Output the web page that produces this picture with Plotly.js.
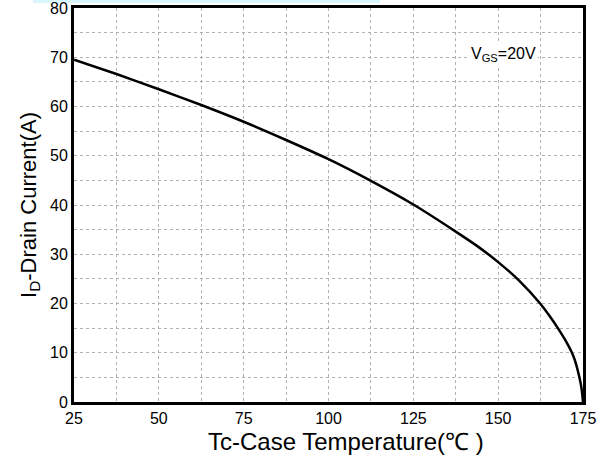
<!DOCTYPE html>
<html>
<head>
<meta charset="utf-8">
<script src="https://cdn.plot.ly/plotly-3.0.1.min.js"></script>
<style>html,body{margin:0;padding:0;background:#fff}#chart{width:603px;height:458px}</style>
</head>
<body>
<div id="chart"></div>
<script>
const temperature = [25, 37.5, 50, 62.5, 75, 87.5, 100, 112.5, 125, 137.5, 143.75, 150, 156.25, 162.5, 165, 167.5, 170, 172, 173, 174, 174.6, 175];
const drainCurrent = [69.5, 66.6, 63.5, 60.3, 56.9, 53.2, 49.3, 44.9, 40.1, 34.6, 31.7, 28.4, 24.6, 19.9, 17.6, 15.1, 12.3, 9.6, 7.6, 4.8, 2.6, 0];
const xTicks = [25, 50, 75, 100, 125, 150, 175];
const yTicks = [0, 10, 20, 30, 40, 50, 60, 70, 80];

const font = "Liberation Sans, Arial, sans-serif";
const trace = {
  x: temperature, y: drainCurrent, type: 'scatter', mode: 'lines',
  line: {color: '#000', width: 2.5, shape: 'spline', smoothing: 0.6},
  hoverinfo: 'skip', cliponaxis: true
};
const L = 74, R = 583, T = 8, B = 402;
const layout = {
  width: 603, height: 458,
  margin: {l: L, r: 603 - R, t: T, b: 458 - B},
  paper_bgcolor: '#fff', plot_bgcolor: '#fff',
  showlegend: false,
  font: {family: font, color: '#000', size: 16},
  xaxis: {
    range: [25, 175.0001], tickvals: xTicks, ticktext: xTicks.map(String),
    showgrid: true, gridcolor: '#b0b0b0', griddash: 'dot', gridwidth: 1,
    minor: {dtick: 12.5, tick0: 25, showgrid: true, gridcolor: '#b0b0b0', griddash: 'dot', gridwidth: 1},
    showline: true, linecolor: '#000', linewidth: 3, mirror: true,
    ticks: '', zeroline: false, tickfont: {size: 16, family: font},
    ticklabeloverflow: 'allow'
  },
  yaxis: {
    range: [-0.0001, 80.0001], tickvals: yTicks, ticktext: yTicks.map(String),
    showgrid: true, gridcolor: '#b0b0b0', griddash: 'dot', gridwidth: 1,
    minor: {dtick: 5, tick0: 0, showgrid: true, gridcolor: '#b0b0b0', griddash: 'dot', gridwidth: 1},
    showline: true, linecolor: '#000', linewidth: 3, mirror: true,
    ticks: '', zeroline: false, tickfont: {size: 16, family: font},
    ticklabeloverflow: 'allow',
    title: {text: 'I<sub>D</sub>-Drain Current(A)', font: {size: 22, family: font}, standoff: 8}
  },
  annotations: [{
    x: 151.5, y: 70.6, xref: 'x', yref: 'y', showarrow: false,
    text: 'V<sub>GS</sub>=20V', font: {size: 16, family: font, color: '#000'},
    bgcolor: '#fff'
  }, {
    x: (346 - L) / (R - L), y: -(441 - B) / (B - T), xref: 'paper', yref: 'paper',
    xanchor: 'center', yanchor: 'middle', showarrow: false,
    text: 'Tc-Case Temperature(℃ )', font: {size: 24, family: font, color: '#000'}
  }],
  shapes: [{
    type: 'rect', xref: 'paper', yref: 'paper',
    x0: (33 - L) / (R - L), x1: (380 - L) / (R - L), y0: 1 + 5 / (B - T), y1: 1 + 8 / (B - T),
    fillcolor: '#d8f6fb', line: {width: 0}, layer: 'below'
  }]
};
Plotly.newPlot('chart', [trace], layout, {displayModeBar: false, staticPlot: true});
</script>
</body>
</html>
